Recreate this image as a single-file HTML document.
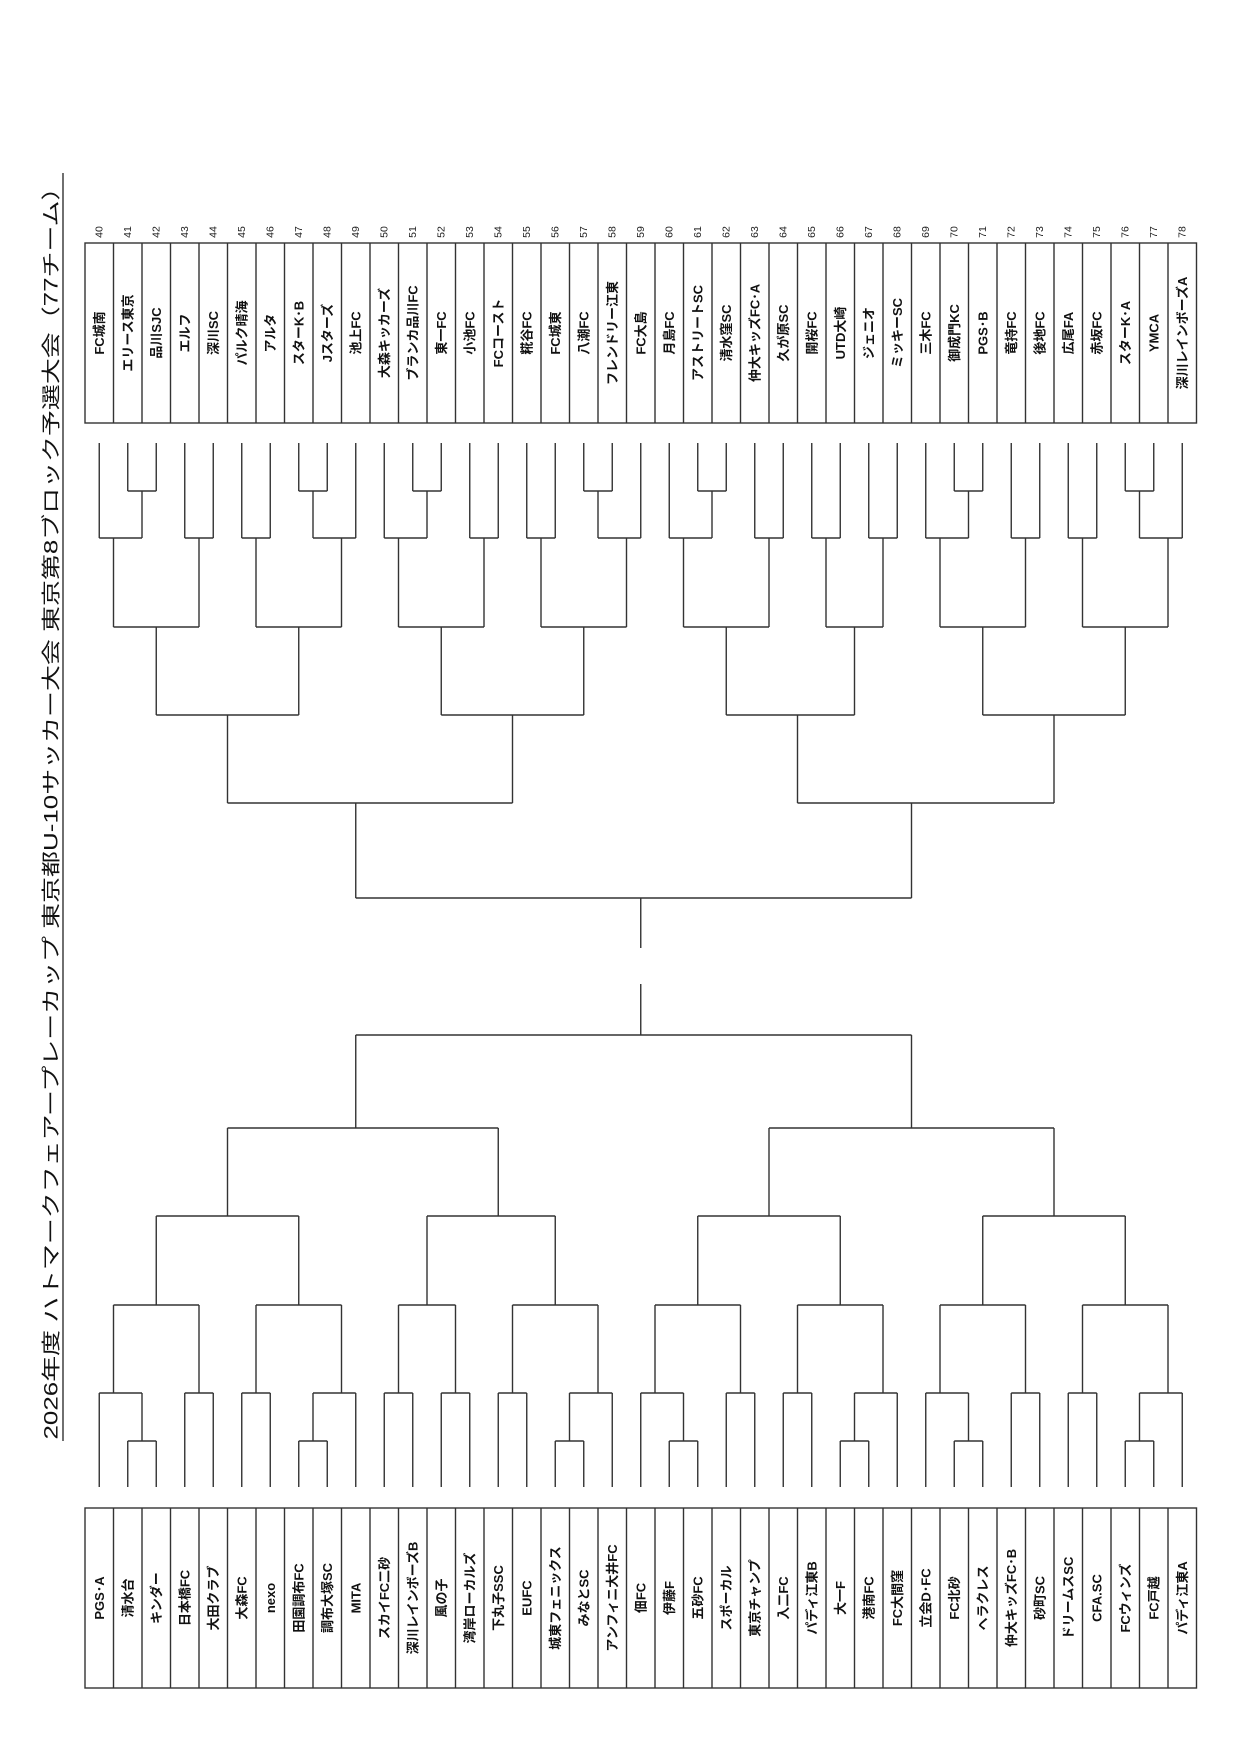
<!DOCTYPE html>
<html><head><meta charset="utf-8">
<style>
html,body{margin:0;padding:0;background:#fff;}
svg{display:block;}
.nm{font-family:"Liberation Sans","Noto Sans CJK JP",sans-serif;font-weight:bold;font-size:13px;fill:#111;}
.no{font-family:"Liberation Sans","Noto Sans CJK JP",sans-serif;font-size:10.5px;fill:#222;}
.tt{font-family:"Liberation Sans","Noto Sans CJK JP",sans-serif;font-size:19px;fill:#111;}
</style></head>
<body>
<svg id="s" width="1240" height="1754" viewBox="0 0 1240 1754" xmlns="http://www.w3.org/2000/svg">
<text class="tt" transform="translate(52,807) rotate(-90)" text-anchor="middle" dominant-baseline="central" textLength="1265" lengthAdjust="spacingAndGlyphs">2026年度 ハトマークフェアープレーカップ 東京都U-10サッカー大会 東京第8ブロック予選大会（77チーム）</text>
<line x1="63" y1="173" x2="63" y2="1441" stroke="#222" stroke-width="1.3"/>

<g fill="none" stroke="#333" stroke-width="1.4">
<rect x="85" y="243" width="1111.5" height="180"/>
<rect x="85" y="1508" width="1111.5" height="180"/>
<g id="cols"></g>
<g id="br"></g>
</g>

<g id="topnames">
<text class="nm" transform="translate(99.25,333) rotate(-90)" text-anchor="middle" dominant-baseline="central">FC城南</text>
<text class="nm" transform="translate(127.75,333) rotate(-90)" text-anchor="middle" dominant-baseline="central">エリース東京</text>
<text class="nm" transform="translate(156.25,333) rotate(-90)" text-anchor="middle" dominant-baseline="central">品川SJC</text>
<text class="nm" transform="translate(184.75,333) rotate(-90)" text-anchor="middle" dominant-baseline="central">エルフ</text>
<text class="nm" transform="translate(213.25,333) rotate(-90)" text-anchor="middle" dominant-baseline="central">深川SC</text>
<text class="nm" transform="translate(241.75,333) rotate(-90)" text-anchor="middle" dominant-baseline="central">パルク晴海</text>
<text class="nm" transform="translate(270.25,333) rotate(-90)" text-anchor="middle" dominant-baseline="central">アルタ</text>
<text class="nm" transform="translate(298.75,333) rotate(-90)" text-anchor="middle" dominant-baseline="central">スターK･B</text>
<text class="nm" transform="translate(327.25,333) rotate(-90)" text-anchor="middle" dominant-baseline="central">Jスターズ</text>
<text class="nm" transform="translate(355.75,333) rotate(-90)" text-anchor="middle" dominant-baseline="central">池上FC</text>
<text class="nm" transform="translate(384.25,333) rotate(-90)" text-anchor="middle" dominant-baseline="central">大森キッカーズ</text>
<text class="nm" transform="translate(412.75,333) rotate(-90)" text-anchor="middle" dominant-baseline="central">ブランカ品川FC</text>
<text class="nm" transform="translate(441.25,333) rotate(-90)" text-anchor="middle" dominant-baseline="central">東一FC</text>
<text class="nm" transform="translate(469.75,333) rotate(-90)" text-anchor="middle" dominant-baseline="central">小池FC</text>
<text class="nm" transform="translate(498.25,333) rotate(-90)" text-anchor="middle" dominant-baseline="central">FCコースト</text>
<text class="nm" transform="translate(526.75,333) rotate(-90)" text-anchor="middle" dominant-baseline="central">糀谷FC</text>
<text class="nm" transform="translate(555.25,333) rotate(-90)" text-anchor="middle" dominant-baseline="central">FC城東</text>
<text class="nm" transform="translate(583.75,333) rotate(-90)" text-anchor="middle" dominant-baseline="central">八潮FC</text>
<text class="nm" transform="translate(612.25,333) rotate(-90)" text-anchor="middle" dominant-baseline="central">フレンドリー江東</text>
<text class="nm" transform="translate(640.75,333) rotate(-90)" text-anchor="middle" dominant-baseline="central">FC大島</text>
<text class="nm" transform="translate(669.25,333) rotate(-90)" text-anchor="middle" dominant-baseline="central">月島FC</text>
<text class="nm" transform="translate(697.75,333) rotate(-90)" text-anchor="middle" dominant-baseline="central">アストリートSC</text>
<text class="nm" transform="translate(726.25,333) rotate(-90)" text-anchor="middle" dominant-baseline="central">清水窪SC</text>
<text class="nm" transform="translate(754.75,333) rotate(-90)" text-anchor="middle" dominant-baseline="central">仲大キッズFC･A</text>
<text class="nm" transform="translate(783.25,333) rotate(-90)" text-anchor="middle" dominant-baseline="central">久が原SC</text>
<text class="nm" transform="translate(811.75,333) rotate(-90)" text-anchor="middle" dominant-baseline="central">開桜FC</text>
<text class="nm" transform="translate(840.25,333) rotate(-90)" text-anchor="middle" dominant-baseline="central">UTD大崎</text>
<text class="nm" transform="translate(868.75,333) rotate(-90)" text-anchor="middle" dominant-baseline="central">ジェニオ</text>
<text class="nm" transform="translate(897.25,333) rotate(-90)" text-anchor="middle" dominant-baseline="central">ミッキーSC</text>
<text class="nm" transform="translate(925.75,333) rotate(-90)" text-anchor="middle" dominant-baseline="central">三木FC</text>
<text class="nm" transform="translate(954.25,333) rotate(-90)" text-anchor="middle" dominant-baseline="central">御成門KC</text>
<text class="nm" transform="translate(982.75,333) rotate(-90)" text-anchor="middle" dominant-baseline="central">PGS･B</text>
<text class="nm" transform="translate(1011.25,333) rotate(-90)" text-anchor="middle" dominant-baseline="central">竜持FC</text>
<text class="nm" transform="translate(1039.75,333) rotate(-90)" text-anchor="middle" dominant-baseline="central">後地FC</text>
<text class="nm" transform="translate(1068.25,333) rotate(-90)" text-anchor="middle" dominant-baseline="central">広尾FA</text>
<text class="nm" transform="translate(1096.75,333) rotate(-90)" text-anchor="middle" dominant-baseline="central">赤坂FC</text>
<text class="nm" transform="translate(1125.25,333) rotate(-90)" text-anchor="middle" dominant-baseline="central">スターK･A</text>
<text class="nm" transform="translate(1153.75,333) rotate(-90)" text-anchor="middle" dominant-baseline="central">YMCA</text>
<text class="nm" transform="translate(1182.25,333) rotate(-90)" text-anchor="middle" dominant-baseline="central">深川レインボーズA</text>
</g>

<g id="nums">
<text class="no" transform="translate(99.25,232) rotate(-90)" text-anchor="middle" dominant-baseline="central">40</text>
<text class="no" transform="translate(127.75,232) rotate(-90)" text-anchor="middle" dominant-baseline="central">41</text>
<text class="no" transform="translate(156.25,232) rotate(-90)" text-anchor="middle" dominant-baseline="central">42</text>
<text class="no" transform="translate(184.75,232) rotate(-90)" text-anchor="middle" dominant-baseline="central">43</text>
<text class="no" transform="translate(213.25,232) rotate(-90)" text-anchor="middle" dominant-baseline="central">44</text>
<text class="no" transform="translate(241.75,232) rotate(-90)" text-anchor="middle" dominant-baseline="central">45</text>
<text class="no" transform="translate(270.25,232) rotate(-90)" text-anchor="middle" dominant-baseline="central">46</text>
<text class="no" transform="translate(298.75,232) rotate(-90)" text-anchor="middle" dominant-baseline="central">47</text>
<text class="no" transform="translate(327.25,232) rotate(-90)" text-anchor="middle" dominant-baseline="central">48</text>
<text class="no" transform="translate(355.75,232) rotate(-90)" text-anchor="middle" dominant-baseline="central">49</text>
<text class="no" transform="translate(384.25,232) rotate(-90)" text-anchor="middle" dominant-baseline="central">50</text>
<text class="no" transform="translate(412.75,232) rotate(-90)" text-anchor="middle" dominant-baseline="central">51</text>
<text class="no" transform="translate(441.25,232) rotate(-90)" text-anchor="middle" dominant-baseline="central">52</text>
<text class="no" transform="translate(469.75,232) rotate(-90)" text-anchor="middle" dominant-baseline="central">53</text>
<text class="no" transform="translate(498.25,232) rotate(-90)" text-anchor="middle" dominant-baseline="central">54</text>
<text class="no" transform="translate(526.75,232) rotate(-90)" text-anchor="middle" dominant-baseline="central">55</text>
<text class="no" transform="translate(555.25,232) rotate(-90)" text-anchor="middle" dominant-baseline="central">56</text>
<text class="no" transform="translate(583.75,232) rotate(-90)" text-anchor="middle" dominant-baseline="central">57</text>
<text class="no" transform="translate(612.25,232) rotate(-90)" text-anchor="middle" dominant-baseline="central">58</text>
<text class="no" transform="translate(640.75,232) rotate(-90)" text-anchor="middle" dominant-baseline="central">59</text>
<text class="no" transform="translate(669.25,232) rotate(-90)" text-anchor="middle" dominant-baseline="central">60</text>
<text class="no" transform="translate(697.75,232) rotate(-90)" text-anchor="middle" dominant-baseline="central">61</text>
<text class="no" transform="translate(726.25,232) rotate(-90)" text-anchor="middle" dominant-baseline="central">62</text>
<text class="no" transform="translate(754.75,232) rotate(-90)" text-anchor="middle" dominant-baseline="central">63</text>
<text class="no" transform="translate(783.25,232) rotate(-90)" text-anchor="middle" dominant-baseline="central">64</text>
<text class="no" transform="translate(811.75,232) rotate(-90)" text-anchor="middle" dominant-baseline="central">65</text>
<text class="no" transform="translate(840.25,232) rotate(-90)" text-anchor="middle" dominant-baseline="central">66</text>
<text class="no" transform="translate(868.75,232) rotate(-90)" text-anchor="middle" dominant-baseline="central">67</text>
<text class="no" transform="translate(897.25,232) rotate(-90)" text-anchor="middle" dominant-baseline="central">68</text>
<text class="no" transform="translate(925.75,232) rotate(-90)" text-anchor="middle" dominant-baseline="central">69</text>
<text class="no" transform="translate(954.25,232) rotate(-90)" text-anchor="middle" dominant-baseline="central">70</text>
<text class="no" transform="translate(982.75,232) rotate(-90)" text-anchor="middle" dominant-baseline="central">71</text>
<text class="no" transform="translate(1011.25,232) rotate(-90)" text-anchor="middle" dominant-baseline="central">72</text>
<text class="no" transform="translate(1039.75,232) rotate(-90)" text-anchor="middle" dominant-baseline="central">73</text>
<text class="no" transform="translate(1068.25,232) rotate(-90)" text-anchor="middle" dominant-baseline="central">74</text>
<text class="no" transform="translate(1096.75,232) rotate(-90)" text-anchor="middle" dominant-baseline="central">75</text>
<text class="no" transform="translate(1125.25,232) rotate(-90)" text-anchor="middle" dominant-baseline="central">76</text>
<text class="no" transform="translate(1153.75,232) rotate(-90)" text-anchor="middle" dominant-baseline="central">77</text>
<text class="no" transform="translate(1182.25,232) rotate(-90)" text-anchor="middle" dominant-baseline="central">78</text>
</g>

<g id="botnames">
<text class="nm" transform="translate(99.25,1598) rotate(-90)" text-anchor="middle" dominant-baseline="central">PGS･A</text>
<text class="nm" transform="translate(127.75,1598) rotate(-90)" text-anchor="middle" dominant-baseline="central">清水台</text>
<text class="nm" transform="translate(156.25,1598) rotate(-90)" text-anchor="middle" dominant-baseline="central">キンダー</text>
<text class="nm" transform="translate(184.75,1598) rotate(-90)" text-anchor="middle" dominant-baseline="central">日本橋FC</text>
<text class="nm" transform="translate(213.25,1598) rotate(-90)" text-anchor="middle" dominant-baseline="central">大田クラブ</text>
<text class="nm" transform="translate(241.75,1598) rotate(-90)" text-anchor="middle" dominant-baseline="central">大森FC</text>
<text class="nm" transform="translate(270.25,1598) rotate(-90)" text-anchor="middle" dominant-baseline="central">nexo</text>
<text class="nm" transform="translate(298.75,1598) rotate(-90)" text-anchor="middle" dominant-baseline="central">田園調布FC</text>
<text class="nm" transform="translate(327.25,1598) rotate(-90)" text-anchor="middle" dominant-baseline="central">調布大塚SC</text>
<text class="nm" transform="translate(355.75,1598) rotate(-90)" text-anchor="middle" dominant-baseline="central">MITA</text>
<text class="nm" transform="translate(384.25,1598) rotate(-90)" text-anchor="middle" dominant-baseline="central">スカイFC二砂</text>
<text class="nm" transform="translate(412.75,1598) rotate(-90)" text-anchor="middle" dominant-baseline="central">深川レインボーズB</text>
<text class="nm" transform="translate(441.25,1598) rotate(-90)" text-anchor="middle" dominant-baseline="central">風の子</text>
<text class="nm" transform="translate(469.75,1598) rotate(-90)" text-anchor="middle" dominant-baseline="central">湾岸ローカルズ</text>
<text class="nm" transform="translate(498.25,1598) rotate(-90)" text-anchor="middle" dominant-baseline="central">下丸子SSC</text>
<text class="nm" transform="translate(526.75,1598) rotate(-90)" text-anchor="middle" dominant-baseline="central">EUFC</text>
<text class="nm" transform="translate(555.25,1598) rotate(-90)" text-anchor="middle" dominant-baseline="central">城東フェニックス</text>
<text class="nm" transform="translate(583.75,1598) rotate(-90)" text-anchor="middle" dominant-baseline="central">みなとSC</text>
<text class="nm" transform="translate(612.25,1598) rotate(-90)" text-anchor="middle" dominant-baseline="central">アンフィニ大井FC</text>
<text class="nm" transform="translate(640.75,1598) rotate(-90)" text-anchor="middle" dominant-baseline="central">佃FC</text>
<text class="nm" transform="translate(669.25,1598) rotate(-90)" text-anchor="middle" dominant-baseline="central">伊藤F</text>
<text class="nm" transform="translate(697.75,1598) rotate(-90)" text-anchor="middle" dominant-baseline="central">五砂FC</text>
<text class="nm" transform="translate(726.25,1598) rotate(-90)" text-anchor="middle" dominant-baseline="central">スポーカル</text>
<text class="nm" transform="translate(754.75,1598) rotate(-90)" text-anchor="middle" dominant-baseline="central">東京チャンプ</text>
<text class="nm" transform="translate(783.25,1598) rotate(-90)" text-anchor="middle" dominant-baseline="central">入二FC</text>
<text class="nm" transform="translate(811.75,1598) rotate(-90)" text-anchor="middle" dominant-baseline="central">パディ江東B</text>
<text class="nm" transform="translate(840.25,1598) rotate(-90)" text-anchor="middle" dominant-baseline="central">大一F</text>
<text class="nm" transform="translate(868.75,1598) rotate(-90)" text-anchor="middle" dominant-baseline="central">港南FC</text>
<text class="nm" transform="translate(897.25,1598) rotate(-90)" text-anchor="middle" dominant-baseline="central">FC大間窪</text>
<text class="nm" transform="translate(925.75,1598) rotate(-90)" text-anchor="middle" dominant-baseline="central">立会D･FC</text>
<text class="nm" transform="translate(954.25,1598) rotate(-90)" text-anchor="middle" dominant-baseline="central">FC北砂</text>
<text class="nm" transform="translate(982.75,1598) rotate(-90)" text-anchor="middle" dominant-baseline="central">ヘラクレス</text>
<text class="nm" transform="translate(1011.25,1598) rotate(-90)" text-anchor="middle" dominant-baseline="central">仲大キッズFC･B</text>
<text class="nm" transform="translate(1039.75,1598) rotate(-90)" text-anchor="middle" dominant-baseline="central">砂町SC</text>
<text class="nm" transform="translate(1068.25,1598) rotate(-90)" text-anchor="middle" dominant-baseline="central">ドリームスSC</text>
<text class="nm" transform="translate(1096.75,1598) rotate(-90)" text-anchor="middle" dominant-baseline="central">CFA.SC</text>
<text class="nm" transform="translate(1125.25,1598) rotate(-90)" text-anchor="middle" dominant-baseline="central">FCウィンズ</text>
<text class="nm" transform="translate(1153.75,1598) rotate(-90)" text-anchor="middle" dominant-baseline="central">FC戸越</text>
<text class="nm" transform="translate(1182.25,1598) rotate(-90)" text-anchor="middle" dominant-baseline="central">パディ江東A</text>
</g>
</svg>
<script>
(function(){
  var NS="http://www.w3.org/2000/svg";
  var cols=document.getElementById("cols"), br=document.getElementById("br");
  function ln(g,x1,y1,x2,y2){var l=document.createElementNS(NS,"line");l.setAttribute("x1",x1);l.setAttribute("y1",y1);l.setAttribute("x2",x2);l.setAttribute("y2",y2);g.appendChild(l);}
  for(var i=1;i<39;i++){var x=85+28.5*i;ln(cols,x,243,x,423);ln(cols,x,1508,x,1688);}
  function cx(i){return 99.25+28.5*i;}
  function draw(node,Y){
    if(typeof node==="number") return {x:cx(node),y:Y[0]};
    var lv=node[0],a=draw(node[1],Y),b=draw(node[2],Y),y=Y[lv];
    ln(br,a.x,a.y,a.x,y); ln(br,b.x,b.y,b.x,y); ln(br,a.x,y,b.x,y);
    return {x:cx(node[3]),y:y};
  }
  var TL=[5,[4,[3,[2,0,[1,1,2,1.5],0.5],[2,3,4,3.5],2],[3,[2,5,6,5.5],[2,[1,7,8,7.5],9,8.5],7],4.5],[4,[3,[2,10,[1,11,12,11.5],10.5],[2,13,14,13.5],12],[3,[2,15,16,15.5],[2,[1,17,18,17.5],19,18.5],17],14.5],9];
  var TR=[5,[4,[3,[2,20,[1,21,22,21.5],20.5],[2,23,24,23.5],22],[3,[2,25,26,25.5],[2,27,28,27.5],26.5],24.5],[4,[3,[2,29,[1,30,31,30.5],29.5],[2,32,33,32.5],31],[3,[2,34,35,34.5],[2,[1,36,37,36.5],38,37.5],36],33.5],28.5];
  var BL=[5,[4,[3,[2,0,[1,1,2,1.5],0.5],[2,3,4,3.5],2],[3,[2,5,6,5.5],[2,[1,7,8,7.5],9,8.5],7],4.5],[4,[3,[2,10,11,10.5],[2,12,13,12.5],11.5],[3,[2,14,15,14.5],[2,[1,16,17,16.5],18,17.5],16],14],9];
  var BR=[5,[4,[3,[2,19,[1,20,21,20.5],19.5],[2,22,23,22.5],21],[3,[2,24,25,24.5],[2,[1,26,27,26.5],28,27.5],26],23.5],[4,[3,[2,29,[1,30,31,30.5],29.5],[2,32,33,32.5],31],[3,[2,34,35,34.5],[2,[1,36,37,36.5],38,37.5],36],33.5],28.5];
  var YT=[443,491,538,627,715,803,898], YB=[1487,1441,1393,1305,1216,1128,1035];
  var t=draw([6,TL,TR,19],YT); ln(br,t.x,898,t.x,948);
  var b=draw([6,BL,BR,19],YB); ln(br,b.x,1035,b.x,984);
})();
</script>
</body></html>
